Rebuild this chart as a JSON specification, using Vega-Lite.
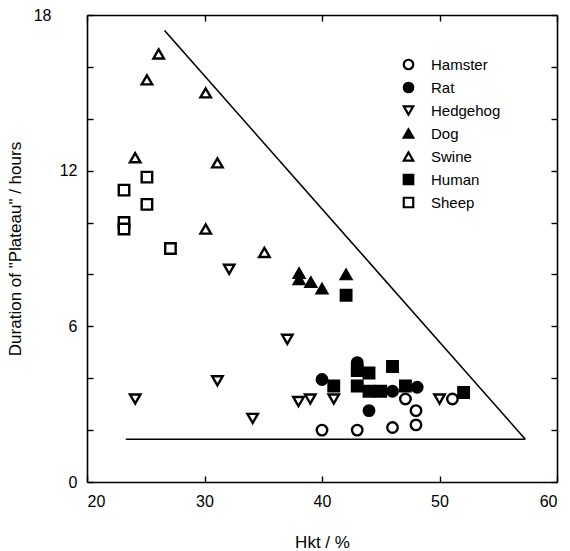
{
  "$schema": "https://vega.github.io/schema/vega-lite/v6.json",
  "autosize": "none",
  "width": 470,
  "height": 467,
  "padding": {"left": 87, "top": 15, "right": 13, "bottom": 69},
  "background": "white",
  "config": {
    "view": {"stroke": null},
    "font": "Liberation Sans",
    "legend": {"symbolStrokeColor": "black", "symbolStrokeWidth": 2},
    "axis": {
      "domainColor": "black",
      "domainWidth": 1.6,
      "tickColor": "black",
      "tickWidth": 1.4,
      "grid": false,
      "labelColor": "black",
      "titleColor": "black",
      "labelFont": "Liberation Sans",
      "titleFont": "Liberation Sans",
      "labelFontSize": 16,
      "titleFontSize": 17,
      "titleFontWeight": "normal"
    }
  },
  "datasets": {
    "pts": [
      {"species": "Hamster", "hkt": 40.0, "dur": 2.0},
      {"species": "Hamster", "hkt": 43.0, "dur": 2.0},
      {"species": "Hamster", "hkt": 46.0, "dur": 2.1},
      {"species": "Hamster", "hkt": 47.1, "dur": 3.2},
      {"species": "Hamster", "hkt": 48.0, "dur": 2.75},
      {"species": "Hamster", "hkt": 48.0, "dur": 2.2},
      {"species": "Hamster", "hkt": 51.1, "dur": 3.2},
      {"species": "Rat", "hkt": 40.0, "dur": 3.95},
      {"species": "Rat", "hkt": 43.0, "dur": 4.6},
      {"species": "Rat", "hkt": 44.0, "dur": 2.75},
      {"species": "Rat", "hkt": 46.0, "dur": 3.5},
      {"species": "Rat", "hkt": 48.1, "dur": 3.65},
      {"species": "Hedgehog", "hkt": 24.1, "dur": 3.2},
      {"species": "Hedgehog", "hkt": 31.1, "dur": 3.9},
      {"species": "Hedgehog", "hkt": 32.1, "dur": 8.2},
      {"species": "Hedgehog", "hkt": 34.1, "dur": 2.45},
      {"species": "Hedgehog", "hkt": 37.05, "dur": 5.5},
      {"species": "Hedgehog", "hkt": 38.0, "dur": 3.1},
      {"species": "Hedgehog", "hkt": 39.0, "dur": 3.2},
      {"species": "Hedgehog", "hkt": 41.0, "dur": 3.2},
      {"species": "Hedgehog", "hkt": 50.0, "dur": 3.2},
      {"species": "Dog", "hkt": 38.05, "dur": 8.05},
      {"species": "Dog", "hkt": 38.05, "dur": 7.8},
      {"species": "Dog", "hkt": 39.05, "dur": 7.7},
      {"species": "Dog", "hkt": 40.0, "dur": 7.45},
      {"species": "Dog", "hkt": 42.05, "dur": 8.0},
      {"species": "Swine", "hkt": 26.1, "dur": 16.5},
      {"species": "Swine", "hkt": 25.1, "dur": 15.5},
      {"species": "Swine", "hkt": 30.1, "dur": 15.0},
      {"species": "Swine", "hkt": 24.1, "dur": 12.5},
      {"species": "Swine", "hkt": 31.1, "dur": 12.3},
      {"species": "Swine", "hkt": 30.1, "dur": 9.75},
      {"species": "Swine", "hkt": 35.1, "dur": 8.85},
      {"species": "Human", "hkt": 41.0, "dur": 3.7},
      {"species": "Human", "hkt": 43.0, "dur": 4.3},
      {"species": "Human", "hkt": 43.0, "dur": 3.7},
      {"species": "Human", "hkt": 44.0, "dur": 4.2},
      {"species": "Human", "hkt": 44.0, "dur": 3.5},
      {"species": "Human", "hkt": 45.0, "dur": 3.5},
      {"species": "Human", "hkt": 46.0, "dur": 4.45},
      {"species": "Human", "hkt": 47.1, "dur": 3.7},
      {"species": "Human", "hkt": 52.05, "dur": 3.45},
      {"species": "Human", "hkt": 42.05, "dur": 7.2},
      {"species": "Sheep", "hkt": 23.15, "dur": 11.25},
      {"species": "Sheep", "hkt": 25.1, "dur": 11.75},
      {"species": "Sheep", "hkt": 25.1, "dur": 10.7},
      {"species": "Sheep", "hkt": 23.15, "dur": 10.0},
      {"species": "Sheep", "hkt": 23.15, "dur": 9.75},
      {"species": "Sheep", "hkt": 27.1, "dur": 9.0}
    ],
    "lines": [
      {"seg": "diag", "hkt": 26.6, "dur": 17.4},
      {"seg": "diag", "hkt": 57.3, "dur": 1.65},
      {"seg": "base", "hkt": 23.3, "dur": 1.65},
      {"seg": "base", "hkt": 57.3, "dur": 1.65}
    ]
  },
  "layer": [
    {
      "data": {"name": "lines"},
      "mark": {"type": "line", "color": "black", "strokeWidth": 1.6},
      "encoding": {
        "x": {
          "field": "hkt", "type": "quantitative",
          "scale": {"domain": [20, 60], "nice": false, "zero": false},
          "axis": {"orient": "top", "values": [20, 30, 40, 50, 60], "labels": false, "title": null, "tickSize": -6}
        },
        "y": {
          "field": "dur", "type": "quantitative",
          "scale": {"domain": [0, 18], "nice": false, "zero": false},
          "axis": {"orient": "right", "values": [0, 2, 4, 6, 8, 10, 12, 14, 16, 18], "labels": false, "title": null, "tickSize": -6}
        },
        "detail": {"field": "seg"}
      }
    },
    {
      "data": {"name": "pts"},
      "mark": {"type": "point", "filled": true, "size": 110, "opacity": 1},
      "encoding": {
        "x": {
          "field": "hkt", "type": "quantitative",
          "axis": {"orient": "bottom", "values": [20, 30, 40, 50, 60], "title": "Hkt / %", "tickSize": -6, "labelPadding": 17, "titlePadding": 25}
        },
        "y": {
          "field": "dur", "type": "quantitative",
          "axis": {
            "orient": "left",
            "values": [0, 2, 4, 6, 8, 10, 12, 14, 16, 18],
            "labelExpr": "datum.value % 6 == 0 ? datum.label : ''",
            "title": "Duration of \"Plateau\" / hours",
            "tickSize": -6,
            "labelPadding": {"condition": {"test": "datum.value == 18", "value": 42}, "value": 16},
            "titlePadding": 9
          }
        },
        "stroke": {"value": "black"},
        "strokeWidth": {"value": 2.4},
        "shape": {
          "field": "species", "type": "nominal",
          "scale": {
            "domain": ["Hamster", "Rat", "Hedgehog", "Dog", "Swine", "Human", "Sheep"],
            "range": ["circle", "circle", "triangle-down", "triangle-up", "triangle-up", "square", "square"]
          },
          "legend": {
            "orient": "none", "legendX": 314, "legendY": 42, "title": null,
            "padding": 0, "labelFontSize": 15, "labelFont": "Liberation Sans", "labelColor": "black",
            "symbolStrokeColor": "black", "symbolStrokeWidth": 2, "symbolSize": 90, "labelOffset": 15, "rowPadding": 4,
            "encoding": {"symbols": {"stroke": {"value": "black"}, "strokeWidth": {"value": 2.2}}}
          }
        },
        "fill": {
          "field": "species", "type": "nominal",
          "scale": {
            "domain": ["Hamster", "Rat", "Hedgehog", "Dog", "Swine", "Human", "Sheep"],
            "range": ["white", "black", "white", "black", "white", "black", "white"]
          },
          "legend": {
            "orient": "none", "legendX": 314, "legendY": 42, "title": null,
            "padding": 0, "labelFontSize": 15, "labelFont": "Liberation Sans", "labelColor": "black",
            "symbolStrokeColor": "black", "symbolStrokeWidth": 2, "symbolSize": 90, "labelOffset": 15, "rowPadding": 4,
            "encoding": {"symbols": {"stroke": {"value": "black"}, "strokeWidth": {"value": 2.2}}}
          }
        }
      }
    }
  ],
  "resolve": {"axis": {"x": "independent", "y": "independent"}}
}
